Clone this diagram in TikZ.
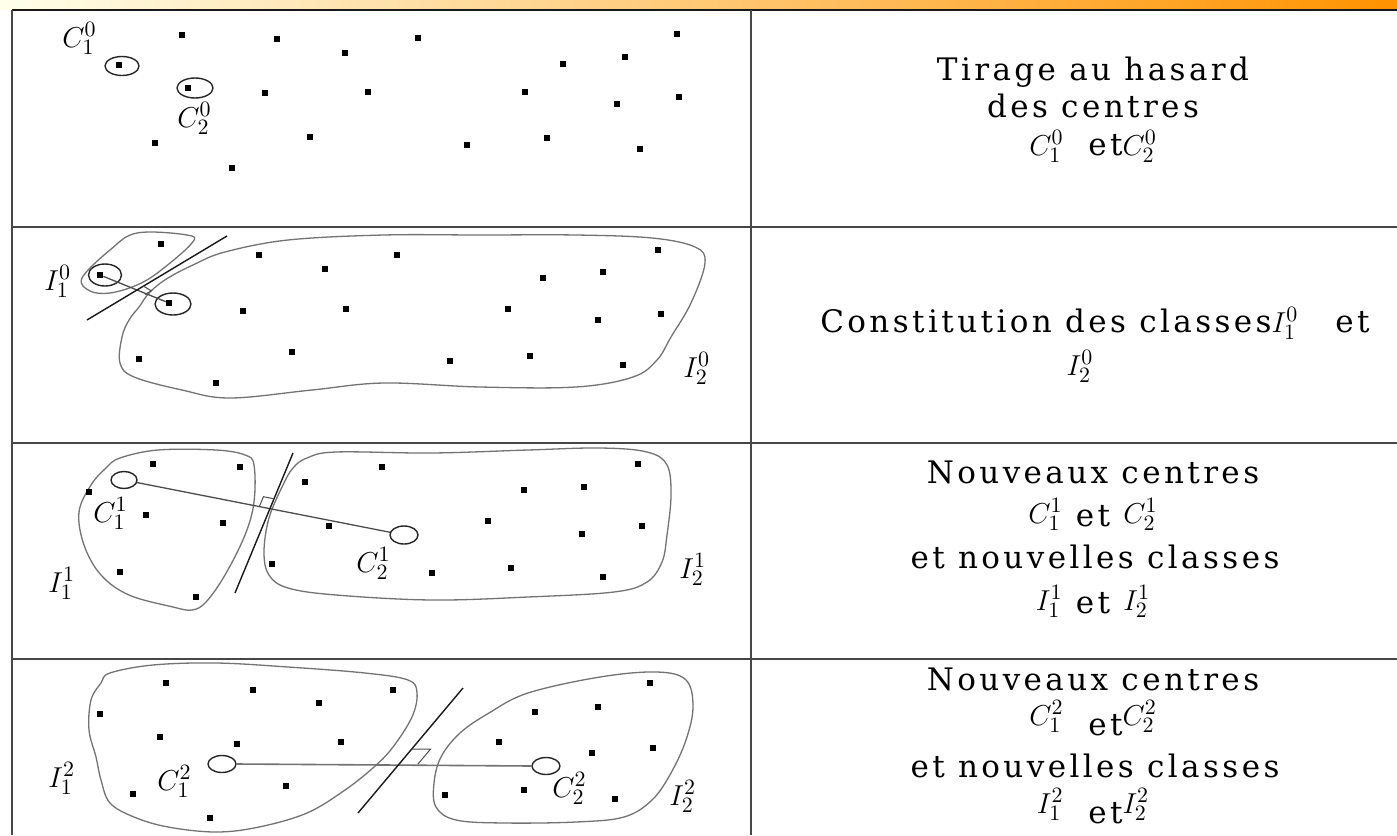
\documentclass[tikz,border=0pt]{standalone}
\usepackage{fontspec}
\usetikzlibrary{shapes.geometric}
\newfontfamily\rf[LetterSpace=11]{DejaVu Serif}
\tikzset{
  dotpt/.style={rectangle, fill=black, inner sep=0pt, minimum size=2.9pt},
  ctr/.style={ellipse, draw=black!85, line width=0.7pt, inner sep=0pt},
  blob/.style={draw=black!55, line width=0.65pt},
  sepline/.style={draw=black!90, line width=0.7pt},
  link/.style={draw=black!70, line width=0.65pt},
  gridline/.style={draw=black!72, line width=1.2pt},
  lbl/.style={inner sep=0pt, anchor=base west, font=\fontsize{15}{17}\selectfont},
  txt/.style={inner sep=0pt, anchor=base, font=\rf\fontsize{15.5}{18}\selectfont},
}
\begin{document}
\begin{tikzpicture}[x=0.5pt,y=-0.5pt]
\useasboundingbox (0,0) rectangle (1397,835);
\fill[white] (0,0) rectangle (1397,835);
% top strip
\shade[left color=yellow!8, middle color=yellow!55!orange!70, right color=orange!85!yellow] (0,0) rectangle (1397,9);
% table
\draw[gridline, black!90] (12,10) -- (1397,10);
\draw[gridline] (12,10) -- (12,835);
\draw[gridline] (751,10) -- (751,835);
\draw[gridline] (12,227) -- (1397,227);
\draw[gridline] (12,443) -- (1397,443);
\draw[gridline] (12,659) -- (1397,659);

% ---------------- Row 1
\foreach \x/\y [count=\i] in {182/35,277/39,345/53,418/38,677/34,563/64,625/57,265/93,368/92,525/92,617/104,679/97,155/143,310/137,467/145,547/138,640/149,232/168,119/65,188/88}
  \node[dotpt, name=a\i] at (\x,\y) {};
\node[ctr, minimum width=17pt, minimum height=9.5pt, name=c10] at (122,66) {};
\node[ctr, minimum width=18pt, minimum height=10pt, name=c20] at (195,88) {};
\node[lbl, name=l10] at (62,47) {$C_1^0$};
\node[lbl, name=l20] at (177,127) {$C_2^0$};
\node[txt, name=t1a] at (1093,80) {Tirage au hasard};
\node[txt, name=t1b] at (1093,117) {des centres};
\node[txt, name=t1c] at (1093,155) {$C_1^0$\hspace{0.8em}et$C_2^0$};

% ---------------- Row 2
\draw[blob] plot[smooth cycle, tension=0.6] coordinates {(82,278) (110,250) (137,233) (187,235) (192,243) (160,271) (137,285) (110,293) (90,291)};
\draw[blob] plot[smooth cycle, tension=0.6] coordinates {(225,252) (288,240) (384,235) (480,235) (576,235) (652,238) (695,247) (705,263) (691,303) (671,337) (657,360) (633,377) (576,387) (480,387) (384,383) (312,390) (230,398) (182,390) (134,377) (120,363) (122,337) (129,320) (139,307) (150,292) (168,278) (195,264)};
\foreach \x/\y [count=\i] in {259/255,397/255,325/269,658/250,603/272,543/278,243/311,346/309,508/309,598/320,661/314,139/359,292/352,450/361,530/356,623/365,216/383,161/244}
  \node[dotpt, name=b\i] at (\x,\y) {};
\node[dotpt, name=i1d] at (100,275) {};
\node[dotpt, name=c2d] at (169,303) {};
\node[ctr, minimum width=16.5pt, minimum height=11pt, name=i10] at (105,275) {};
\node[ctr, minimum width=18pt, minimum height=11pt, name=c21] at (173,304) {};
\draw[link] (i1d) -- (c2d);
\coordinate (s2a) at (87,320);
\coordinate (s2b) at (227,236);
\draw[sepline] (s2a) -- (s2b);
\draw[link, line width=0.5pt] (145,294.5) -- (151.3,290.8) -- (142.8,285.7);
\node[lbl, name=li10] at (44,290) {$I_1^0$};
\node[lbl, name=li20] at (683,377) {$I_2^0$};
\node[txt, name=t2a] at (1095,332) {Constitution des classes$I_1^0$\hspace{1.2em}et};
\node[txt, name=t2b] at (1080,375) {$I_2^0$};

% ---------------- Row 3
\draw[blob] plot[smooth cycle, tension=0.6] coordinates {(120,458) (158,450) (216,450) (245,455) (254,465) (254,502) (245,535) (225,575) (206,602) (192,610) (173,607) (129,595) (101,575) (84,545) (79,512) (91,485) (106,468)};
\draw[blob] plot[smooth cycle, tension=0.6] coordinates {(307,458) (336,452) (432,453) (528,450) (600,448) (647,452) (667,465) (671,495) (667,535) (662,562) (647,582) (614,592) (528,597) (432,600) (336,595) (288,588) (269,575) (264,552) (269,518) (283,485) (293,468)};
\foreach \x/\y [count=\i] in {153/464,240/467,89/492,146/515,223/523,120/572,196/597,305/482,382/467,638/464,524/490,584/487,329/526,488/521,642/526,582/534,272/564,432/573,511/568,603/577}
  \node[dotpt, name=d\i] at (\x,\y) {};
\node[ctr, minimum width=13pt, minimum height=8.5pt, name=c11] at (124,480) {};
\node[ctr, minimum width=14pt, minimum height=9pt, name=c22] at (404,535) {};
\draw[link] (c11) -- (c22);
\coordinate (s3a) at (293,453);
\coordinate (s3b) at (235,593);
\draw[sepline] (s3a) -- (s3b);
\draw[link, line width=0.5pt] (259.2,506.9) -- (263.4,496.7) -- (274.2,498.8);
\node[lbl, name=l11] at (93,522) {$C_1^1$};
\node[lbl, name=l21] at (356,572) {$C_2^1$};
\node[lbl, name=li11] at (48,592) {$I_1^1$};
\node[lbl, name=li21] at (679,578) {$I_2^1$};
\node[txt, name=t3a] at (1093,483) {Nouveaux centres};
\node[txt, name=t3b] at (1093,523) {$C_1^1$ \raisebox{-1.5pt}{et} $C_2^1$};
\node[txt, name=t3c] at (1095,568) {et nouvelles classes};
\node[txt, name=t3d] at (1093,610) {$I_1^1$ \raisebox{-1.5pt}{et} $I_2^1$};

% ---------------- Row 4
\draw[blob] plot[smooth cycle, tension=0.6] coordinates {(110,673) (153,665) (216,663) (288,667) (365,673) (408,680) (417,693) (412,717) (393,747) (374,767) (345,790) (307,813) (259,827) (216,832) (168,827) (134,817) (110,803) (101,780) (96,757) (89,730) (91,700) (101,683)};
\draw[blob] plot[smooth cycle, tension=0.6] coordinates {(489,713) (528,693) (600,677) (657,672) (686,680) (693,707) (686,740) (671,773) (652,800) (624,817) (576,822) (504,823) (456,820) (436,807) (434,783) (441,757) (460,733)};
\foreach \x/\y [count=\i] in {166/683,253/690,393/690,319/703,100/714,160/737,237/744,341/742,133/794,286/786,210/818,650/683,598/707,535/712,499/742,592/753,653/748,445/795,524/790,615/799}
  \node[dotpt, name=e\i] at (\x,\y) {};
\node[ctr, minimum width=14pt, minimum height=8.5pt, name=c12] at (222,764) {};
\node[ctr, minimum width=14pt, minimum height=8.5pt, name=c23] at (546,766) {};
\draw[link, black!55, line width=0.8pt] (c12.east) -- (c23.west);
\coordinate (s4a) at (463,688);
\coordinate (s4b) at (358,813);
\draw[sepline] (s4a) -- (s4b);
\draw[link, line width=0.5pt] (411.6,749) -- (430.6,749) -- (418,764);
\node[lbl, name=li12] at (48,787) {$I_1^2$};
\node[lbl, name=l12] at (157,790) {$C_1^2$};
\node[lbl, name=l22] at (552,797) {$C_2^2$};
\node[lbl, name=li22] at (669,805) {$I_2^2$};
\node[txt, name=t4a] at (1093,690) {Nouveaux centres};
\node[txt, name=t4b] at (1093,725) {$C_1^2$\hspace{0.8em}\raisebox{-5pt}{et}$C_2^2$};
\node[txt, name=t4c] at (1095,777) {et nouvelles classes};
\node[txt, name=t4d] at (1093,813) {$I_1^2$\hspace{0.8em}\raisebox{-5pt}{et}$I_2^2$};
\end{tikzpicture}
\end{document}
